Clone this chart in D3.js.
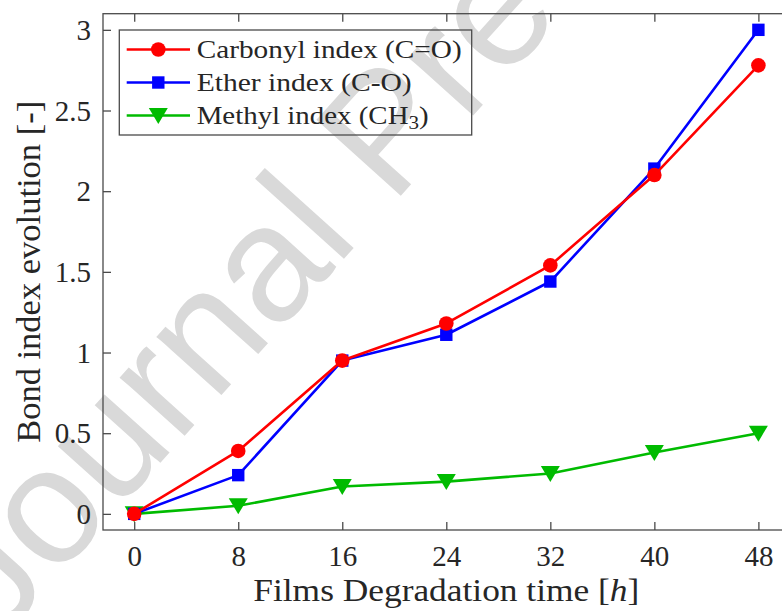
<!DOCTYPE html>
<html>
<head>
<meta charset="utf-8">
<script src="https://cdn.jsdelivr.net/npm/d3@7"></script>
<style>
  html, body { margin: 0; padding: 0; background: #fff; }
  svg { display: block; }
  text { font-family: "Liberation Serif", "DejaVu Serif", serif; fill: #262626; }
</style>
</head>
<body>
<svg id="chart" width="782" height="611"></svg>
<script>
// Degradation time (hours) and bond index values
const hours = [0, 8, 16, 24, 32, 40, 48];
const carbonyl = [0, 0.39, 0.95, 1.18, 1.54, 2.10, 2.78];
const ether = [0, 0.24, 0.95, 1.11, 1.44, 2.14, 3.00];
const methyl = [0, 0.05, 0.17, 0.20, 0.25, 0.38, 0.50];

const xTicks = [0, 8, 16, 24, 32, 40, 48];
const yTicks = [0, 0.5, 1, 1.5, 2, 2.5, 3];
const yTickLabels = ["0", "0.5", "1", "1.5", "2", "2.5", "3"];

const svg = d3.select("#chart");
const axisColor = "#4a4a4a";
const textColor = "#262626";

const x = d3.scaleLinear().domain([-2.4, 50.4]).range([103, 789.6]);
const y = d3.scaleLinear().domain([-0.1, 3.1]).range([530, 13.7]);

const plotLeft = x.range()[0], plotRight = x.range()[1];
const plotBottom = y.range()[0], plotTop = y.range()[1];

// Diagonal watermark, behind the axes content
svg.append("text")
  .attr("transform", "translate(-1,642) rotate(-48)")
  .style("font-family", '"Liberation Sans", Arial, sans-serif')
  .style("font-size", "165px")
  .style("fill", "#d9d9d9")
  .text("Journal Pre-proof");

// Axes box
svg.append("rect")
  .attr("x", plotLeft).attr("y", plotTop)
  .attr("width", plotRight - plotLeft).attr("height", plotBottom - plotTop)
  .attr("fill", "none").attr("stroke", axisColor).attr("stroke-width", 1.3);

// Bottom and top x axes (inward ticks)
const xAxisB = d3.axisBottom(x).tickValues(xTicks).tickSize(-8).tickPadding(12).tickFormat(d3.format("d"));
const gxb = svg.append("g").attr("transform", `translate(0,${plotBottom})`).call(xAxisB);
const xAxisT = d3.axisTop(x).tickValues(xTicks).tickSize(-8).tickFormat("");
const gxt = svg.append("g").attr("transform", `translate(0,${plotTop})`).call(xAxisT);

// Left y axis (inward ticks)
const yAxisL = d3.axisLeft(y).tickValues(yTicks).tickSize(-8).tickPadding(12)
  .tickFormat((d, i) => yTickLabels[i]);
const gyl = svg.append("g").attr("transform", `translate(${plotLeft},0)`).call(yAxisL);

[gxb, gxt, gyl].forEach(g => {
  g.select(".domain").remove();
  g.selectAll(".tick line").attr("stroke", axisColor).attr("stroke-width", 1.3);
  g.selectAll(".tick text")
    .attr("fill", textColor)
    .style("font-family", '"Liberation Serif", serif')
    .style("font-size", "29px");
});
gxb.selectAll(".tick text").attr("y", 35.5).attr("dy", null);
gyl.selectAll(".tick text").attr("x", -12).attr("dy", "0.33em");

// Axis labels
const xl = svg.append("text")
  .attr("x", (plotLeft + plotRight) / 2).attr("y", 601)
  .attr("text-anchor", "middle")
  .style("font-size", "32px")
  .attr("textLength", 386).attr("lengthAdjust", "spacingAndGlyphs");
xl.append("tspan").text("Films Degradation time [");
xl.append("tspan").style("font-style", "italic").text("h");
xl.append("tspan").text("]");

svg.append("text")
  .attr("transform", `translate(40,${(plotTop + plotBottom) / 2}) rotate(-90)`)
  .attr("text-anchor", "middle")
  .style("font-size", "33px")
  .attr("textLength", 342).attr("lengthAdjust", "spacingAndGlyphs")
  .text("Bond index evolution [-]");

// Marker shapes
const markers = {
  circle: (g, cx, cy, color) => g.append("circle").attr("cx", cx).attr("cy", cy).attr("r", 7.3).attr("fill", color),
  square: (g, cx, cy, color) => g.append("rect").attr("x", cx - 6.2).attr("y", cy - 6.2).attr("width", 12.4).attr("height", 12.4).attr("fill", color),
  tri: (g, cx, cy, color) => g.append("path")
    .attr("d", `M${cx - 9.5},${cy - 7.5}L${cx + 9.5},${cy - 7.5}L${cx},${cy + 8.5}Z`).attr("fill", color)
};

const series = [
  { name: "Methyl", values: methyl, color: "#00bb00", marker: "tri" },
  { name: "Ether", values: ether, color: "#0000ff", marker: "square" },
  { name: "Carbonyl", values: carbonyl, color: "#ff0000", marker: "circle" }
];

const line = d3.line().x(d => x(d[0])).y(d => y(d[1]));
const plot = svg.append("g");
series.forEach(s => {
  const pts = hours.map((h, i) => [h, s.values[i]]);
  const g = plot.append("g");
  g.append("path").datum(pts).attr("d", line)
    .attr("fill", "none").attr("stroke", s.color).attr("stroke-width", 2.6)
    .attr("stroke-linejoin", "round");
  pts.forEach(p => markers[s.marker](g, x(p[0]), y(p[1]), s.color));
});

// Legend
const legend = svg.append("g");
legend.append("rect")
  .attr("x", 119.3).attr("y", 30).attr("width", 352.4).attr("height", 105)
  .attr("fill", "none").attr("stroke", axisColor).attr("stroke-width", 1.3);

const legendRows = [
  { color: "#ff0000", marker: "circle", parts: [["Carbonyl index (C=O)", null]], len: 265 },
  { color: "#0000ff", marker: "square", parts: [["Ether index (C-O)", null]], len: 215 },
  { color: "#00bb00", marker: "tri", parts: [["Methyl index (CH", null], ["3", "sub"], [")", null]], len: 232 }
];
const rowY = [49.5, 82.5, 115.5];
legendRows.forEach((r, i) => {
  const cy = rowY[i];
  legend.append("line").attr("x1", 126.7).attr("x2", 190).attr("y1", cy).attr("y2", cy)
    .attr("stroke", r.color).attr("stroke-width", 2.6);
  markers[r.marker](legend, 158.3, cy, r.color);
  const t = legend.append("text").attr("x", 196.7).attr("y", cy + 8.5)
    .style("font-size", "26px")
    .attr("textLength", r.len).attr("lengthAdjust", "spacingAndGlyphs");
  r.parts.forEach(([s, kind], k) => {
    const ts = t.append("tspan").text(s);
    if (kind === "sub") ts.attr("dy", 5).style("font-size", "19px");
    else if (k > 0) ts.attr("dy", -5);
  });
});
</script>
</body>
</html>
